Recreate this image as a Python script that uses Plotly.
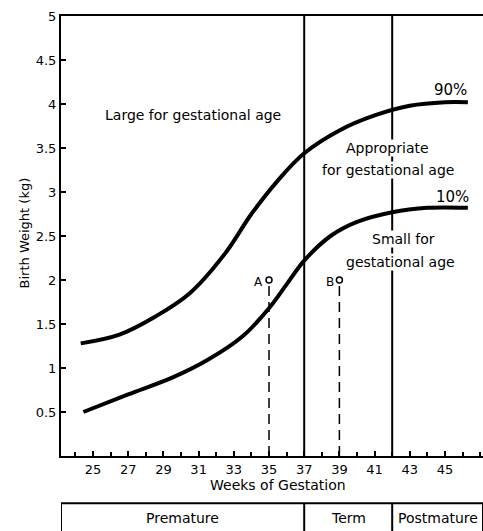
import plotly.graph_objects as go

# Percentile curves of birth weight (kg) against weeks of gestation
weeks_90 = [24.3, 26.5, 28.5, 30.5, 32.5, 34.0, 35.5, 37.0, 39.0, 41.0, 43.0, 45.0, 46.3]
weight_90 = [1.28, 1.38, 1.58, 1.85, 2.30, 2.75, 3.13, 3.44, 3.70, 3.87, 3.98, 4.02, 4.02]

weeks_10 = [24.45, 27.0, 29.5, 31.5, 33.5, 35.0, 36.0, 37.0, 38.5, 40.0, 42.0, 44.0, 46.3]
weight_10 = [0.50, 0.70, 0.89, 1.09, 1.36, 1.68, 1.95, 2.22, 2.50, 2.66, 2.77, 2.82, 2.82]

# Example infants A and B
case_labels = ["A", "B"]
case_weeks = [35, 39]
case_weight = [2.0, 2.0]

# Boundaries between premature / term / postmature
term_start = 37
post_start = 42

x_ticks = list(range(25, 46, 2))
y_ticks = [0.5, 1, 1.5, 2, 2.5, 3, 3.5, 4, 4.5, 5]
y_tick_text = ["0.5", "1", "1.5", "2", "2.5", "3", "3.5", "4", "4.5", "5"]

periods = ["Premature", "Term", "Postmature"]

FONT = "DejaVu Sans"
X0, X1 = 23.18, 47.16

fig = go.Figure()

for wk, wt in [(weeks_90, weight_90), (weeks_10, weight_10)]:
    fig.add_trace(go.Scatter(x=wk, y=wt, mode="lines",
                             line=dict(color="black", width=4, shape="spline", smoothing=1.0),
                             hoverinfo="skip", showlegend=False))

# Dashed drop lines with open circles for A and B
for lab, wk, wt in zip(case_labels, case_weeks, case_weight):
    fig.add_trace(go.Scatter(x=[wk, wk], y=[0, wt - 0.05], mode="lines",
                             line=dict(color="black", width=1.5, dash="10px,6px"),
                             hoverinfo="skip", showlegend=False))
    fig.add_trace(go.Scatter(x=[wk], y=[wt], mode="markers",
                             marker=dict(symbol="circle-open", size=6, color="black",
                                         line=dict(width=1.5)),
                             hoverinfo="skip", showlegend=False))
    fig.add_annotation(x=wk - 0.2, y=wt - 0.02, text=lab, showarrow=False,
                       xanchor="right", yanchor="middle",
                       font=dict(family=FONT, size=12, color="black"))

# Term boundaries
for wk in [term_start, post_start]:
    fig.add_shape(type="line", x0=wk, x1=wk, y0=0, y1=5, xref="x", yref="y",
                  line=dict(color="black", width=2), layer="below")

txt = dict(family=FONT, size=14, color="black")
fig.add_annotation(x=30.7, y=3.87, text="Large for gestational age", showarrow=False, font=txt)
# Region labels in the term band sit on a white ground that breaks the boundary line
for label, wx, wy in [("Appropriate", 41.76, 3.50), ("for gestational age", 41.76, 3.25),
                      ("Small for", 42.67, 2.47), ("gestational age", 42.5, 2.20)]:
    fig.add_annotation(x=wx, y=wy, text=label, showarrow=False, font=txt,
                       bgcolor="white", borderpad=0)
fig.add_annotation(x=45.3, y=4.16, text="90%", showarrow=False, font=dict(family=FONT, size=15, color="black"))
fig.add_annotation(x=45.4, y=2.94, text="10%", showarrow=False, font=dict(family=FONT, size=15, color="black"))

# Axis titles
fig.add_annotation(xref="paper", yref="paper", x=-0.11, y=0.506, text="Birth Weight (kg)",
                   textangle=-90, showarrow=False, font=dict(family=FONT, size=13, color="black"))
fig.add_annotation(xref="x", yref="paper", x=35.5, y=-0.066, text="Weeks of Gestation",
                   showarrow=False, yanchor="middle", font=dict(family=FONT, size=14, color="black"))

# Period band below the axis
band_top, band_bot = -0.1075, -0.2
edges = [X0, term_start, post_start, X1]
fig.add_shape(type="rect", xref="x", yref="paper", x0=X0, x1=X1, y0=band_bot, y1=band_top,
              line=dict(color="black", width=2))
for wk in [term_start, post_start]:
    fig.add_shape(type="line", xref="x", yref="paper", x0=wk, x1=wk, y0=band_bot, y1=band_top,
                  line=dict(color="black", width=2))
for i, name in enumerate(periods):
    fig.add_annotation(xref="x", yref="paper", x=(edges[i] + edges[i + 1]) / 2, y=-0.142,
                       text=name, showarrow=False, yanchor="middle",
                       font=dict(family=FONT, size=14, color="black"))

fig.update_xaxes(range=[X0, X1], tickvals=x_ticks, ticktext=[str(v) for v in x_ticks],
                 ticks="inside", ticklen=5, tickwidth=1.5, tickcolor="black",
                 minor=dict(ticks="inside", dtick=1, tick0=25, ticklen=4, tickcolor="black"),
                 showline=True, linecolor="black", linewidth=2, mirror=True,
                 showgrid=False, zeroline=False,
                 tickfont=dict(family=FONT, size=13, color="black"))
fig.update_yaxes(range=[0, 5], tickvals=y_ticks, ticktext=y_tick_text,
                 ticks="inside", ticklen=5, tickwidth=1.5, tickcolor="black",
                 showline=True, linecolor="black", linewidth=2,
                 showgrid=False, zeroline=False,
                 tickfont=dict(family=FONT, size=13, color="black"))

fig.update_layout(width=483, height=531, margin=dict(l=61, r=0, t=16, b=75),
                  plot_bgcolor="white", paper_bgcolor="white", showlegend=False)

fig.write_html("out.html")
